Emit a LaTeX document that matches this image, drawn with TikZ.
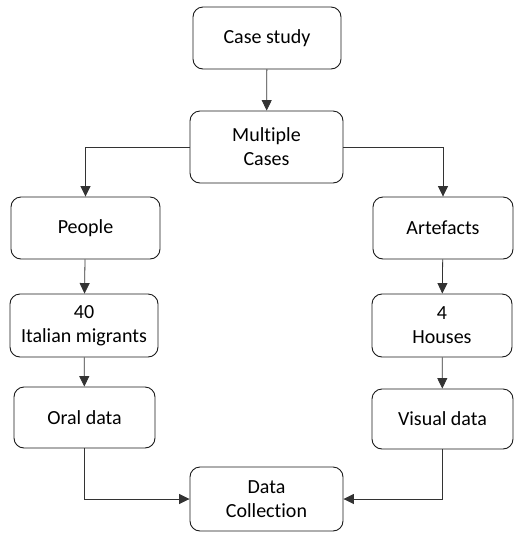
\documentclass[tikz,border=0pt]{standalone}
\usepackage{fontspec}
\setmainfont{Carlito}[Ligatures={NoCommon}]
\definecolor{boxLine}{HTML}{1A1A1A}
\definecolor{arrowLine}{HTML}{333333}
\usepackage{tikz}
\usetikzlibrary{arrows.meta}

\begin{document}
\begin{tikzpicture}[x=1pt, y=-1pt, font=\fontsize{20}{24}\selectfont,
  stagebox/.style={draw=boxLine, line width=0.9pt, rounded corners=10pt, align=center, inner sep=0pt},
  flow/.style={-{Triangle[length=10.5pt, width=10pt]}, arrowLine, line width=0.8pt}]
\useasboundingbox (0,0) rectangle (532,542);
\node[stagebox, minimum width=148pt, minimum height=62pt] (case) at (267,38) {Case study};
\node[stagebox, minimum width=153pt, minimum height=72pt] (multi) at (266.5,147) {Multiple\\ Cases};
\node[stagebox, minimum width=149pt, minimum height=62pt] (people) at (85.5,228) {People};
\node[stagebox, minimum width=140pt, minimum height=62pt] (artef) at (443,228) {Artefacts};
\node[stagebox, minimum width=148pt, minimum height=63pt] (migr) at (84,325.5) {40\\ Italian migrants};
\node[stagebox, minimum width=140pt, minimum height=63pt] (houses) at (442,325.5) {4\\ Houses};
\node[stagebox, minimum width=141pt, minimum height=61pt] (oral) at (84.5,417.5) {Oral data};
\node[stagebox, minimum width=141pt, minimum height=60pt] (visual) at (442.5,419) {Visual data};
\node[stagebox, minimum width=153pt, minimum height=64pt] (collect) at (266.5,499) {Data\\ Collection};
\draw[flow] (case) -- (multi);
\draw[flow] (multi.west) -| (people.north);
\draw[flow] (multi.east) -| (artef.north);
\draw[flow] (people) -- (migr);
\draw[flow] (artef) -- (houses);
\draw[flow] (migr) -- (oral);
\draw[flow] (houses) -- (visual);
\draw[flow] (oral.south) |- (collect.west);
\draw[flow] (visual.south) |- (collect.east);
\end{tikzpicture}
\end{document}
